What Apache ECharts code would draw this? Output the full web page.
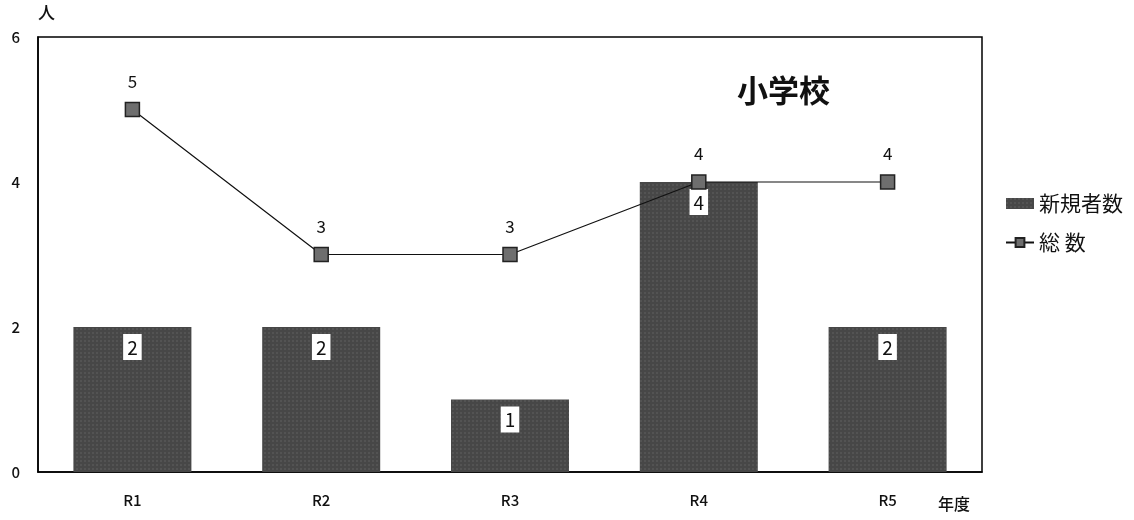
<!DOCTYPE html>
<html><head><meta charset="utf-8">
<script src="https://cdn.jsdelivr.net/npm/echarts@6/dist/echarts.min.js"></script>
<style>html,body{margin:0;padding:0;background:#fff}#c{width:1134px;height:520px}</style>
</head><body><div id="c"></div>
<script>
const categories = ['R1','R2','R3','R4','R5'];
const newCount = [2, 2, 1, 4, 2];
const totalCount = [5, 3, 3, 4, 4];
const yTicks = [0, 2, 4, 6];
const F = '"Noto Sans CJK JP", "Noto Sans", sans-serif';
const chart = echarts.init(document.getElementById('c'));
chart.setOption({
  animation: false,
  backgroundColor: '#fff',
  title: { text: '小学校', left: 732, top: 70, textStyle: { fontFamily: F, fontSize: 31, fontWeight: 'bold', color: '#111' } },
  legend: {
    orient: 'vertical', left: 1000, top: 188, itemGap: 18, itemWidth: 28, itemHeight: 11,
    textStyle: { fontFamily: F, fontSize: 21, color: '#111' },
    data: [{ name: '新規者数', icon: 'rect' }, { name: '総 数' }]
  },
  grid: { left: 38, right: 152, top: 37, bottom: 48, show: true, borderColor: '#000', borderWidth: 1.5 },
  xAxis: {
    type: 'category', data: categories,
    axisLine: { lineStyle: { color: '#000', width: 1.5 } },
    axisTick: { show: false },
    axisLabel: { fontFamily: F, fontSize: 15, fontWeight: 500, color: '#111', margin: 21 }
  },
  yAxis: {
    type: 'value', min: 0, max: 6, interval: 2,
    axisLine: { show: true, lineStyle: { color: '#000', width: 1.5 } },
    axisTick: { show: false }, splitLine: { show: false },
    axisLabel: { fontFamily: F, fontSize: 15, fontWeight: 500, color: '#111', margin: 18,
      formatter: v => yTicks.includes(v) ? String(v) : '' }
  },
  graphic: [
    { type: 'text', left: 38, top: 4, style: { text: '人', font: '500 17px ' + F, fill: '#111' } },
    { type: 'text', left: 938, top: 496, style: { text: '年度', font: '500 16px ' + F, fill: '#111' } }
  ],
  series: [
    {
      name: '新規者数', type: 'bar', data: newCount, barWidth: 118,
      itemStyle: { color: '#474747', decal: { symbol: 'rect', symbolSize: 0.5, color: 'rgba(190,190,190,0.45)', dashArrayX: [2, 2], dashArrayY: [2, 2], rotation: 0 } },
      label: { show: true, position: 'insideTop', distance: 7, backgroundColor: '#fff', padding: [4, 4, 3, 4],
        fontFamily: F, fontSize: 19, color: '#111' }
    },
    {
      name: '総 数', type: 'line', data: totalCount,
      symbol: 'rect', symbolSize: 14,
      lineStyle: { color: '#111', width: 1.2 },
      itemStyle: { color: '#6e6e6e', borderColor: '#222', borderWidth: 1.5 },
      label: { show: true, position: 'top', distance: 12, fontFamily: F, fontSize: 17, color: '#111' }
    }
  ]
});
</script></body></html>
